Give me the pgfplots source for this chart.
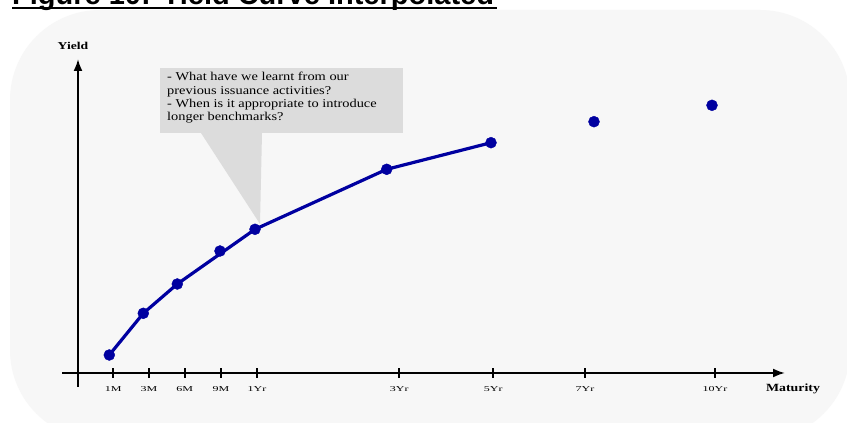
\documentclass[border=0pt]{standalone}
\usepackage{pgfplots}
\pgfplotsset{compat=1.18}
\usepackage{fontspec}
\setmainfont{Liberation Serif}
\newfontfamily\arialfont{Liberation Sans}
\usetikzlibrary{arrows.meta}
\usepackage{graphicx}
\definecolor{panel}{HTML}{F7F7F7}
\definecolor{callout}{HTML}{DCDCDC}
\definecolor{curve}{HTML}{0000A0}
\newcommand\sx[1]{\scalebox{1.6}[1]{#1}}
\begin{document}
\begin{tikzpicture}[x=1pt,y=1pt]
\clip (0,0) rectangle (847,423);
\fill[white] (0,0) rectangle (847,423);
\fill[panel, rounded corners=90pt] (10,-17) rectangle (850,413);
% title (cropped at the top, as in the reference)
\node[anchor=base west, inner sep=0pt, font=\arialfont\bfseries\fontsize{29}{30}\selectfont] at (12,418) {Figure 10: Yield Curve Interpolated};
\fill[black] (12,414) rectangle (497,416);
% callout
\fill[callout] (160,355) rectangle (403,290);
\fill[callout] (201,290) -- (262,290) -- (260,199) -- cycle;
\node[anchor=base west, inner sep=0pt, font=\fontsize{12}{13.3}\selectfont] at (167,342)
  {\scalebox{1.2}[1]{\begin{tabular}[t]{@{}l@{}}- What have we learnt from our\\ previous issuance activities?\\ - When is it appropriate to introduce\\ longer benchmarks?\end{tabular}}};
\begin{axis}[
  x=1pt, y=1pt, anchor=origin, at={(78,50)},
  xmin=-16, xmax=707, ymin=-14, ymax=314,
  axis lines=middle,
  every inner x axis line/.append style={line width=2pt, -{Latex[length=12pt,width=9pt]}},
  every inner y axis line/.append style={line width=2pt, -{Latex[length=12pt,width=9pt]}},
  xtick={35.3,71,106.7,143,179,321.3,415.3,507,637},
  xticklabels={\sx{1M},\sx{3M},\sx{6M},\sx{9M},\sx{1Yr},\sx{3Yr},\sx{5Yr},\sx{7Yr},\sx{10Yr}},
  ytick=\empty,
  tick align=center,
  major tick length=10pt,
  tick style={line width=2pt, black},
  xticklabel style={font=\fontsize{7.5}{8}\selectfont, anchor=center, yshift=-11pt},
  xlabel={\scalebox{1.26}[1]{\bfseries Maturity}},
  ylabel={\scalebox{1.3}[1]{\bfseries Yield}},
  every axis x label/.style={at={(axis cs:715,-16)}, anchor=center, font=\fontsize{11}{12}\selectfont},
  every axis y label/.style={at={(axis cs:-5,327)}, anchor=center, font=\fontsize{10.5}{12}\selectfont},
  clip=false,
]
\addplot[curve, line width=3.2pt, no marks] coordinates {
  (31.3,18) (65.3,59.7) (99.3,89) (177,143.7) (308.7,203.7) (413,230.3)};
\addplot[only marks, mark=*, mark size=5.5pt, mark options={fill=curve, draw=curve}] coordinates {
  (31.3,18) (65.3,59.7) (99.3,89) (142,122) (177,143.7) (308.7,203.7) (413,230.3) (516,251.3) (634,267.7)};
\end{axis}
\end{tikzpicture}
\end{document}
